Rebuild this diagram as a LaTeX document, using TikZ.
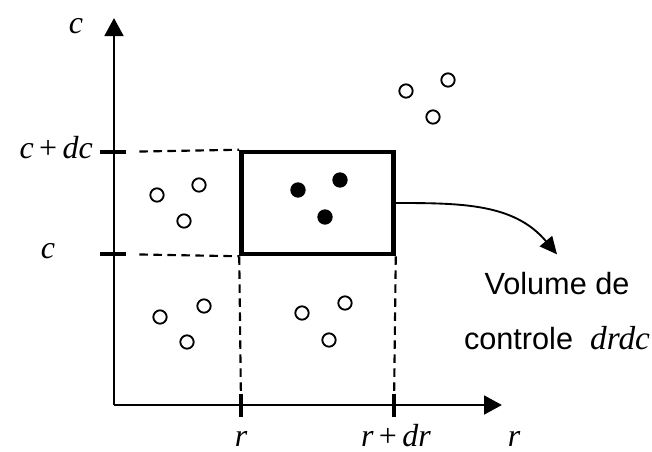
\documentclass[tikz,border=0pt]{standalone}
\usepackage{fontspec}
\setmainfont{Liberation Sans}
\newfontfamily\tnr{Liberation Serif}
\usetikzlibrary{arrows.meta, positioning}

\begin{document}
\begin{tikzpicture}[x=0.75pt, y=-0.75pt,
  axis/.style={line width=2.2pt, -{Triangle[length=13.5pt,width=14pt]}},
  tick/.style={line width=3.6pt},
  guide/.style={line width=1.6pt, dash pattern=on 6.5pt off 4pt},
  cell/.style={draw, line width=3.4pt, minimum width=114pt, minimum height=76.5pt,
    inner sep=0pt},
  part/.style={circle, draw, line width=1.4pt, minimum size=10pt, inner sep=0pt},
  hit/.style={circle, fill, minimum size=11.5pt, inner sep=0pt},
  lbl/.style={font=\tnr\fontsize{24}{28}\selectfont, inner sep=0pt},
  txt/.style={font=\fontsize{23}{41}\selectfont, align=center}
]
  \useasboundingbox (0,0) rectangle (652,451);

  % axes
  \coordinate (O) at (114,405);
  \coordinate (ytop) at (114,18);
  \coordinate (xend) at (502,405);
  \draw[axis] (O) -- (ytop);
  \draw[axis] (O) -- (xend);

  % ticks
  \coordinate (r) at (241,405);
  \coordinate (rdr) at (394,405);
  \coordinate (c) at (114,254);
  \coordinate (cdc) at (114,152);
  \foreach \t in {r, rdr}
    \draw[tick] ([yshift=8.5pt]\t) -- ([yshift=-9pt]\t);
  \foreach \t in {c, cdc}
    \draw[tick] ([xshift=-10.5pt]\t) -- ([xshift=9pt]\t);

  % control volume
  \node[cell] (vol) at (317.5,203) {};
  \draw[guide, shorten <=19pt] (cdc) -- (vol.north west);
  \draw[guide, shorten <=19pt] (c) -- (vol.south west);
  \draw[guide, shorten >=10pt] (vol.south west) -- (r);
  \draw[guide, shorten >=10pt] (vol.south east) -- (rdr);

  % labels
  \node[lbl, anchor=base] at (76,33) {\itshape c};
  \node[lbl, anchor=base east] at (93,158) {\itshape c\,\upshape+\,\itshape dc};
  \node[lbl, anchor=base] at (48,258) {\itshape c};
  \node[lbl, anchor=base] at (241,446) {\itshape r};
  \node[lbl, anchor=base] at (396,446) {\itshape r\,\upshape+\,\itshape dr};
  \node[lbl, anchor=base] at (514,446) {\itshape r};

  % particles
  \foreach \p in {(157,195), (199,185), (184,221),
                  (160,317), (204,306), (187,342),
                  (302,313), (345,303), (329,340),
                  (406,91), (448,80), (433,117)}
    \node[part] at \p {};
  \foreach \p in {(298,190), (340,180), (325,217)}
    \node[hit] at \p {};

  % note
  \node[txt] (note) at (557,311)
    {Volume de\\controle \ {\tnr\itshape\fontsize{25}{41}\selectfont drdc}};
  \draw[line width=1.4pt, -{Triangle[length=13pt,width=12pt]}]
    (vol.east) to[out=0, in=130] ([yshift=10pt]note.north);
\end{tikzpicture}
\end{document}
